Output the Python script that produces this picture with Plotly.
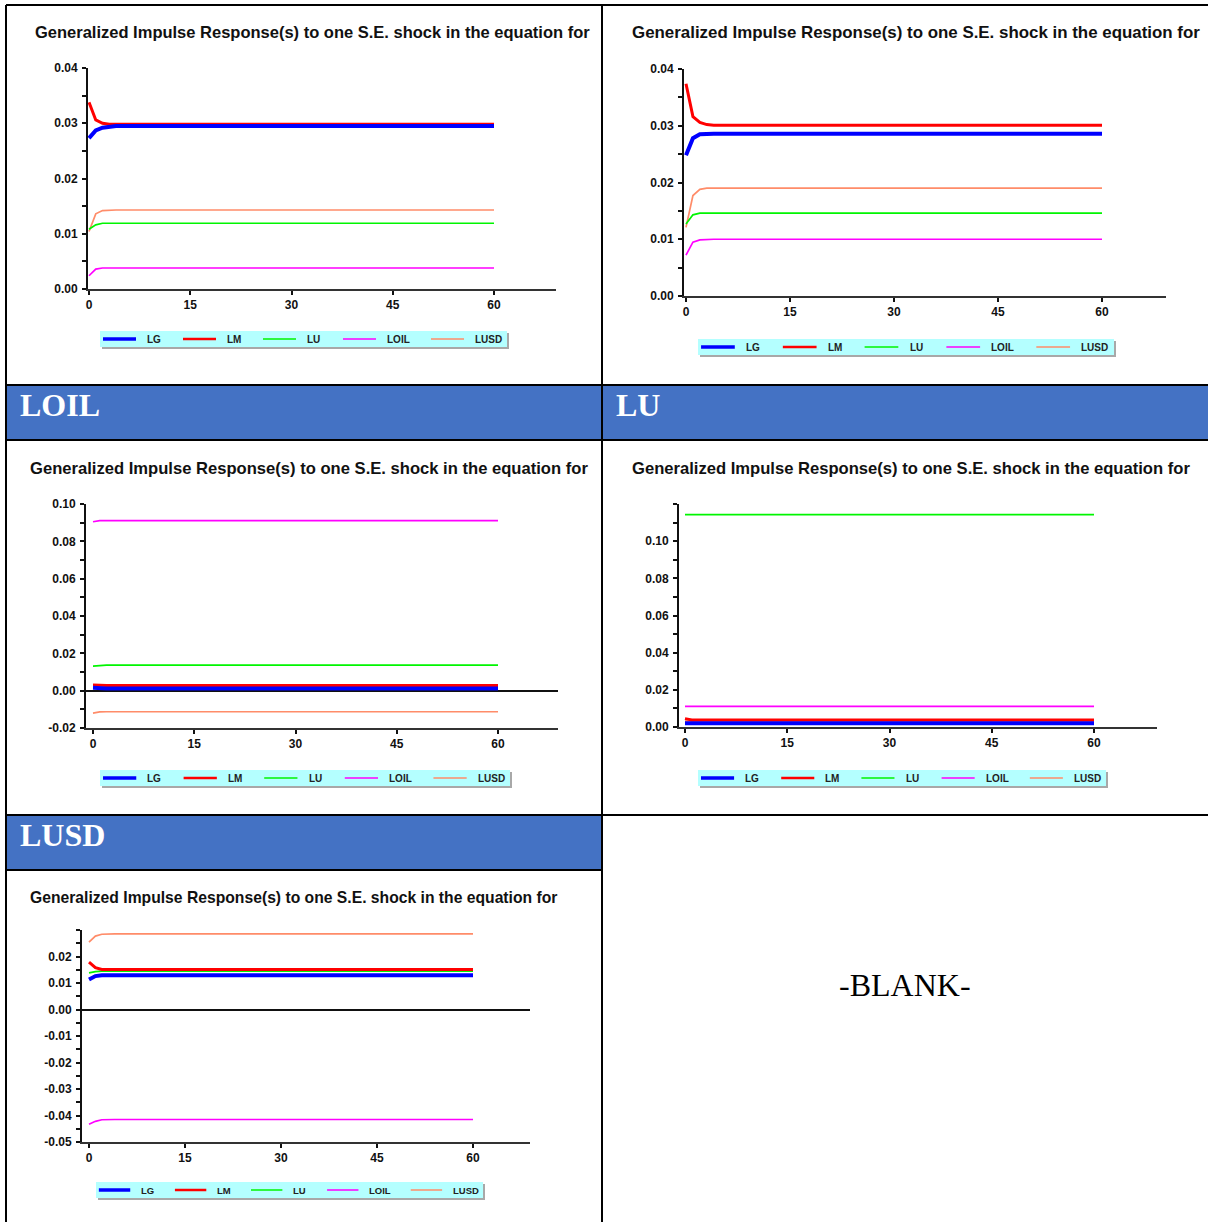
import plotly.graph_objects as go

W, H = 1208, 1222

# ---------------- data ----------------
SERIES = ["LG", "LM", "LU", "LOIL", "LUSD"]
HORIZON = [0, 1, 2, 3, 4, 60]
X_TICKS = [0, 15, 30, 45, 60]
TITLE = "Generalized Impulse Response(s) to one S.E. shock in the equation for"
HEADERS = ["LOIL", "LU", "LUSD"]
BLANK_TEXT = "-BLANK-"

# panel 1 (top-left)
P1_LG = [0.0273, 0.0287, 0.0292, 0.0294, 0.0295, 0.0295]
P1_LM = [0.0338, 0.0306, 0.0300, 0.0298, 0.0298, 0.0298]
P1_LU = [0.0108, 0.0116, 0.0119, 0.0119, 0.0119, 0.0119]
P1_LOIL = [0.0024, 0.0036, 0.0038, 0.0038, 0.0038, 0.0038]
P1_LUSD = [0.0104, 0.0136, 0.0142, 0.0143, 0.0143, 0.0143]
P1_YTICKS = [0.00, 0.01, 0.02, 0.03, 0.04]

# panel 2 (top-right)
P2_LG = [0.0248, 0.0278, 0.0285, 0.0286, 0.0286, 0.0286]
P2_LM = [0.0374, 0.0316, 0.0306, 0.0302, 0.0301, 0.0301]
P2_LU = [0.0127, 0.0143, 0.0146, 0.0146, 0.0146, 0.0146]
P2_LOIL = [0.0072, 0.0095, 0.0099, 0.0100, 0.0100, 0.0100]
P2_LUSD = [0.0121, 0.0177, 0.0188, 0.0190, 0.0190, 0.0190]
P2_YTICKS = [0.00, 0.01, 0.02, 0.03, 0.04]

# panel 3 (LOIL shock)
P3_LG = [0.0015, 0.0012, 0.0012, 0.0012, 0.0012, 0.0012]
P3_LM = [0.0031, 0.0028, 0.0028, 0.0028, 0.0028, 0.0028]
P3_LU = [0.0131, 0.0135, 0.0137, 0.0137, 0.0137, 0.0137]
P3_LOIL = [0.0905, 0.0911, 0.0911, 0.0911, 0.0911, 0.0911]
P3_LUSD = [-0.0120, -0.0114, -0.0113, -0.0113, -0.0113, -0.0113]
P3_YTICKS = [-0.02, 0.00, 0.02, 0.04, 0.06, 0.08, 0.10]

# panel 4 (LU shock)
P4_LG = [0.0020, 0.0020, 0.0020, 0.0020, 0.0020, 0.0020]
P4_LM = [0.0045, 0.0038, 0.0037, 0.0037, 0.0037, 0.0037]
P4_LU = [0.1143, 0.1143, 0.1143, 0.1143, 0.1143, 0.1143]
P4_LOIL = [0.0111, 0.0111, 0.0111, 0.0111, 0.0111, 0.0111]
P4_LUSD = [0.0032, 0.0033, 0.0033, 0.0033, 0.0033, 0.0033]
P4_YTICKS = [0.00, 0.02, 0.04, 0.06, 0.08, 0.10, 0.12]
P4_YLABELS = ["0.00", "0.02", "0.04", "0.06", "0.08", "0.10", ""]

# panel 5 (LUSD shock)
P5_LG = [0.0113, 0.0126, 0.0129, 0.0129, 0.0129, 0.0129]
P5_LM = [0.0179, 0.0158, 0.0151, 0.0151, 0.0151, 0.0151]
P5_LU = [0.0138, 0.0143, 0.0145, 0.0145, 0.0145, 0.0145]
P5_LOIL = [-0.0433, -0.0422, -0.0416, -0.0415, -0.0415, -0.0415]
P5_LUSD = [0.0254, 0.0277, 0.0284, 0.0285, 0.0285, 0.0285]
P5_YTICKS = [-0.05, -0.04, -0.03, -0.02, -0.01, 0.00, 0.01, 0.02, 0.03]
P5_YLABELS = ["-0.05", "-0.04", "-0.03", "-0.02", "-0.01", "0.00", "0.01", "0.02", ""]

# ---------------- styles / geometry ----------------
COLORS = {"LG": "#0000FF", "LM": "#FF0000", "LU": "#00F500",
          "LOIL": "#FF00FF", "LUSD": "#FF8C69"}
WIDTHS = {"LG": 4, "LM": 3, "LU": 1.7, "LOIL": 1.7, "LUSD": 1.7}
DRAW_ORDER = ["LUSD", "LOIL", "LU", "LM", "LG"]


def fmt(vals):
    return [("%.2f" % v).replace("-0.00", "0.00") for v in vals]


PANELS = [
    dict(data=dict(LG=P1_LG, LM=P1_LM, LU=P1_LU, LOIL=P1_LOIL, LUSD=P1_LUSD),
         yticks=P1_YTICKS, ylabels=fmt(P1_YTICKS), yrange=[0.0, 0.04], minor=0.005, zero=False,
         box=(88, 556, 68, 289), x0=89, x60=494,
         title=(33, 32, 16.5), legend=(100, 331, 507, 347), lfont=10),
    dict(data=dict(LG=P2_LG, LM=P2_LM, LU=P2_LU, LOIL=P2_LOIL, LUSD=P2_LUSD),
         yticks=P2_YTICKS, ylabels=fmt(P2_YTICKS), yrange=[0.0, 0.04], minor=0.005, zero=False,
         box=(684, 1166, 69, 296), x0=686, x60=1102,
         title=(630, 33, 16.9), legend=(698, 339, 1114, 355), lfont=10),
    dict(data=dict(LG=P3_LG, LM=P3_LM, LU=P3_LU, LOIL=P3_LOIL, LUSD=P3_LUSD),
         yticks=P3_YTICKS, ylabels=fmt(P3_YTICKS), yrange=[-0.02, 0.10], minor=0.01, zero=True,
         box=(86, 558, 504, 728), x0=93, x60=498,
         title=(28, 468, 16.6), legend=(100, 770, 510, 786), lfont=10),
    dict(data=dict(LG=P4_LG, LM=P4_LM, LU=P4_LU, LOIL=P4_LOIL, LUSD=P4_LUSD),
         yticks=P4_YTICKS, ylabels=P4_YLABELS, yrange=[0.0, 0.12], minor=0.01, zero=False,
         box=(679, 1157, 504, 727), x0=685, x60=1094,
         title=(630, 468, 16.6), legend=(698, 770, 1106, 786), lfont=10),
    dict(data=dict(LG=P5_LG, LM=P5_LM, LU=P5_LU, LOIL=P5_LOIL, LUSD=P5_LUSD),
         yticks=P5_YTICKS, ylabels=P5_YLABELS, yrange=[-0.05, 0.03], minor=0.005, zero=True,
         box=(82, 530, 930, 1142), x0=89, x60=473,
         title=(28, 897, 15.7), legend=(96, 1182, 483, 1198), lfont=9.5),
]


def px(x):
    return x / W


def py(y):
    return 1 - y / H


TICK_FONT = dict(family="Liberation Sans Narrow, Liberation Sans, Arial", size=12,
                 color="#111111", weight="bold")

fig = go.Figure()
shapes = []
annotations = []

for i, p in enumerate(PANELS, start=1):
    sfx = "" if i == 1 else str(i)
    left, right, top, bottom = p["box"]
    unit = (p["x60"] - p["x0"]) / 60.0
    xr = [-(p["x0"] - left) / unit, (right - p["x0"]) / unit]

    for name in DRAW_ORDER:
        fig.add_trace(go.Scatter(
            x=HORIZON, y=p["data"][name], mode="lines", name=name,
            line=dict(color=COLORS[name], width=WIDTHS[name]),
            xaxis="x" + sfx, yaxis="y" + sfx, showlegend=False, hoverinfo="skip"))

    fig.layout["xaxis" + sfx] = dict(
        domain=[px(left), px(right)], range=xr, anchor="y" + sfx, automargin=False,
        showline=True, linecolor="#333333", linewidth=2, showgrid=False, zeroline=False,
        tickmode="array", tickvals=X_TICKS, ticktext=[str(t) for t in X_TICKS],
        ticks="outside", ticklen=4, tickwidth=1.5, tickcolor="#111111",
        tickfont=TICK_FONT, fixedrange=True)
    fig.layout["yaxis" + sfx] = dict(
        domain=[py(bottom), py(top)], range=p["yrange"], anchor="x" + sfx, automargin=False,
        showline=True, linecolor="#111111", linewidth=2, showgrid=False,
        zeroline=p["zero"], zerolinecolor="#111111", zerolinewidth=2,
        tickmode="array", tickvals=p["yticks"], ticktext=p["ylabels"],
        ticks="outside", ticklen=4, tickwidth=1.5, tickcolor="#111111",
        minor=dict(dtick=p["minor"], tick0=0, ticks="outside", ticklen=4,
                   tickwidth=1.5, tickcolor="#111111", showgrid=False),
        tickfont=TICK_FONT, ticklabelstandoff=2, fixedrange=True)

    # chart title
    tx, ty, ts = p["title"]
    annotations.append(dict(text=TITLE, x=px(tx), y=py(ty), xref="paper", yref="paper",
                            xanchor="left", yanchor="middle", showarrow=False,
                            font=dict(family="Liberation Sans, Arial", size=ts,
                                      color="#111111", weight="bold")))

    # legend box
    lx0, ly0, lx1, ly1 = p["legend"]
    lw = lx1 - lx0
    shapes.append(dict(type="rect", xref="paper", yref="paper",
                       x0=px(lx0 + 2), x1=px(lx1 + 2), y0=py(ly1 + 2), y1=py(ly0 + 2),
                       fillcolor="#A8A8A8", line=dict(width=0), layer="above"))
    shapes.append(dict(type="rect", xref="paper", yref="paper",
                       x0=px(lx0), x1=px(lx1), y0=py(ly1), y1=py(ly0),
                       fillcolor="#B4FFFF", line=dict(width=0), layer="above"))
    ym = (ly0 + ly1) / 2.0
    offsets = [3, 83, 163, 243, 331]
    for name, off in zip(SERIES, offsets):
        sx = lx0 + off * lw / 407.0
        shapes.append(dict(type="line", xref="paper", yref="paper",
                           x0=px(sx), x1=px(sx + 33 * lw / 407.0), y0=py(ym), y1=py(ym),
                           line=dict(color=COLORS[name], width=WIDTHS[name] * 0.9),
                           layer="above"))
        annotations.append(dict(text=name, x=px(sx + 42 * lw / 407.0), y=py(ym + 0.5),
                                xref="paper", yref="paper", xanchor="left", yanchor="middle",
                                showarrow=False,
                                font=dict(family="Liberation Sans, Arial", size=p["lfont"],
                                          color="#222222", weight="bold")))

# ---------------- table frame ----------------
HEADER_BLUE = "#4472C4"
shapes.append(dict(type="rect", xref="paper", yref="paper", x0=px(6), x1=px(1208),
                   y0=py(440), y1=py(385), fillcolor=HEADER_BLUE, line=dict(width=0),
                   layer="below"))
shapes.append(dict(type="rect", xref="paper", yref="paper", x0=px(6), x1=px(602),
                   y0=py(870), y1=py(815), fillcolor=HEADER_BLUE, line=dict(width=0),
                   layer="below"))

frame_lines = [
    (6, 5, 6, 1222), (602, 5, 602, 1222),
    (6, 5, 1208, 5), (6, 385, 1208, 385), (6, 440, 1208, 440),
    (6, 815, 1208, 815), (6, 870, 602, 870),
]
for x0, y0, x1, y1 in frame_lines:
    shapes.append(dict(type="line", xref="paper", yref="paper",
                       x0=px(x0), x1=px(x1), y0=py(y0), y1=py(y1),
                       line=dict(color="#000000", width=2), layer="above"))

header_pos = [(18, 405), (614, 405), (18, 835)]
for text, (hx, hy) in zip(HEADERS, header_pos):
    annotations.append(dict(text=text, x=px(hx), y=py(hy), xref="paper", yref="paper",
                            xanchor="left", yanchor="middle", showarrow=False,
                            font=dict(family="Liberation Serif, Times New Roman", size=32,
                                      color="#FFFFFF", weight="bold")))

annotations.append(dict(text=BLANK_TEXT, x=px(905), y=py(985), xref="paper", yref="paper",
                        xanchor="center", yanchor="middle", showarrow=False,
                        font=dict(family="Liberation Serif, Times New Roman", size=32,
                                  color="#000000")))

fig.update_layout(width=W, height=H,
                  margin=dict(l=0, r=0, t=0, b=0, pad=0, autoexpand=False),
                  paper_bgcolor="#FFFFFF", plot_bgcolor="rgba(0,0,0,0)",
                  shapes=shapes, annotations=annotations, showlegend=False)

fig.write_html("out.html", config={"displayModeBar": False},
               post_script="document.body.style.margin='0';")
